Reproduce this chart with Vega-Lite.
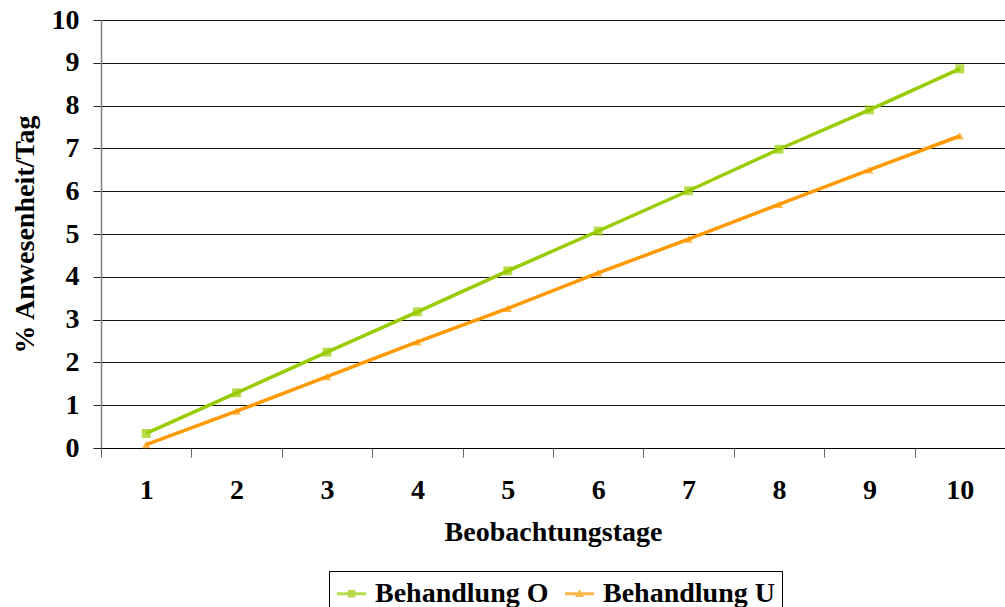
{
  "$schema": "https://vega.github.io/schema/vega-lite/v6.json",
  "width": 904,
  "height": 428,
  "autosize": "none",
  "padding": {"left": 101, "top": 20, "right": 0, "bottom": 159},
  "background": "white",
  "config": {
    "font": "Liberation Serif",
    "view": {"stroke": null},
    "axis": {
      "labelFont": "Liberation Serif",
      "titleFont": "Liberation Serif",
      "labelFontSize": 28,
      "labelFontWeight": "bold",
      "titleFontSize": 28,
      "titleFontWeight": "bold",
      "labelColor": "#000",
      "titleColor": "#000"
    },
    "legend": {
      "labelFont": "Liberation Serif",
      "labelFontSize": 28,
      "labelFontWeight": "bold",
      "labelColor": "#000",
      "labelLimit": 400
    }
  },
  "data": {
    "values": [
      {"tag": "1", "serie": "Behandlung O", "wert": 0.34},
      {"tag": "2", "serie": "Behandlung O", "wert": 1.29},
      {"tag": "3", "serie": "Behandlung O", "wert": 2.24},
      {"tag": "4", "serie": "Behandlung O", "wert": 3.18},
      {"tag": "5", "serie": "Behandlung O", "wert": 4.14},
      {"tag": "6", "serie": "Behandlung O", "wert": 5.07},
      {"tag": "7", "serie": "Behandlung O", "wert": 6.01},
      {"tag": "8", "serie": "Behandlung O", "wert": 6.98},
      {"tag": "9", "serie": "Behandlung O", "wert": 7.90},
      {"tag": "10", "serie": "Behandlung O", "wert": 8.86},
      {"tag": "1", "serie": "Behandlung U", "wert": 0.08},
      {"tag": "2", "serie": "Behandlung U", "wert": 0.86},
      {"tag": "3", "serie": "Behandlung U", "wert": 1.67},
      {"tag": "4", "serie": "Behandlung U", "wert": 2.48},
      {"tag": "5", "serie": "Behandlung U", "wert": 3.26},
      {"tag": "6", "serie": "Behandlung U", "wert": 4.09},
      {"tag": "7", "serie": "Behandlung U", "wert": 4.88},
      {"tag": "8", "serie": "Behandlung U", "wert": 5.69},
      {"tag": "9", "serie": "Behandlung U", "wert": 6.50},
      {"tag": "10", "serie": "Behandlung U", "wert": 7.29}
    ]
  },
  "encoding": {
    "x": {
      "field": "tag",
      "type": "ordinal",
      "sort": ["1", "2", "3", "4", "5", "6", "7", "8", "9", "10"],
      "scale": {"type": "band", "paddingInner": 0, "paddingOuter": 0},
      "axis": {
        "title": "Beobachtungstage",
        "labelAngle": 0,
        "tickBand": "extent",
        "grid": false,
        "domainColor": "#000",
        "tickColor": "#666",
        "tickSize": 9,
        "labelPadding": 19,
        "titlePadding": 14
      }
    },
    "y": {
      "field": "wert",
      "type": "quantitative",
      "scale": {"domain": [0, 10], "nice": false},
      "axis": {
        "title": "% Anwesenheit/Tag",
        "tickCount": 10,
        "grid": true,
        "gridColor": "#111",
        "domainColor": "#808080",
        "domainWidth": 1.5,
        "tickColor": "#222",
        "tickSize": 8,
        "labelPadding": 14,
        "titlePadding": 12
      }
    }
  },
  "layer": [
    {
      "transform": [{"filter": "datum.serie === 'Behandlung O'"}],
      "mark": {"type": "line", "strokeWidth": 3.5, "color": "#99CC00"},
      "encoding": {}
    },
    {
      "transform": [{"filter": "datum.serie === 'Behandlung U'"}],
      "mark": {"type": "line", "strokeWidth": 3.5, "color": "#FF9900"},
      "encoding": {}
    },
    {
      "transform": [{"filter": "datum.serie === 'Behandlung O'"}],
      "mark": {"type": "point", "shape": "square", "filled": true, "size": 80, "color": "#99CC00"},
      "encoding": {}
    },
    {
      "transform": [{"filter": "datum.serie === 'Behandlung U'"}],
      "mark": {"type": "point", "shape": "triangle-up", "filled": true, "size": 70, "color": "#FF9900"},
      "encoding": {}
    },
    {
      "mark": {"type": "point", "filled": true, "size": 0},
      "encoding": {
        "color": {
          "field": "serie",
          "type": "nominal",
          "scale": {"domain": ["Behandlung O", "Behandlung U"], "range": ["#99CC00", "#FF9900"]},
          "legend": {
            "title": null,
            "orient": "none",
            "legendX": 228,
            "legendY": 551,
            "direction": "horizontal",
            "strokeColor": "#000",
            "fillColor": "white",
            "padding": 7,
            "columnPadding": 15,
            "labelOffset": 8,
            "labelLimit": 400,
            "symbolSize": 841
          }
        },
        "shape": {
          "field": "serie",
          "type": "nominal",
          "scale": {
            "domain": ["Behandlung O", "Behandlung U"],
            "range": [
              "M-1,-0.1H1V0.1H-1Z M-0.26,-0.26H0.26V0.26H-0.26Z",
              "M-1,-0.1H1V0.1H-1Z M0,-0.32L0.3,0.22H-0.3Z"
            ]
          }
        }
      }
    }
  ]
}
